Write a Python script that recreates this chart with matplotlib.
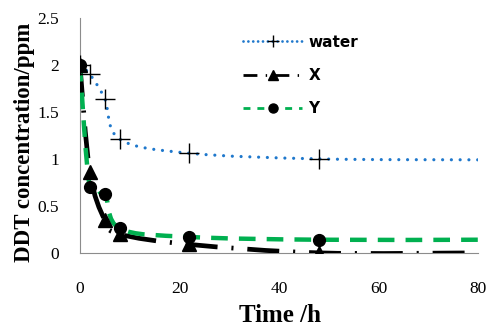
import matplotlib
matplotlib.use("Agg")
import matplotlib.pyplot as plt
import numpy as np
from matplotlib.path import Path
from matplotlib.patches import PathPatch
from matplotlib.lines import Line2D

plt.rcParams['lines.scale_dashes'] = False

# data
time_h = [0, 2, 5, 8, 22, 48, 80]
water = [2.0, 1.90, 1.64, 1.21, 1.06, 1.00, 0.99]
x_series = [2.0, 0.86, 0.35, 0.20, 0.09, 0.0, 0.0]
y_series = [2.0, 0.70, 0.63, 0.26, 0.17, 0.14, 0.14]
n_marked = 6  # last point (80 h) carries no marker
labels = ["water", "X", "Y"]
xticks = [0, 20, 40, 60, 80]
yticks = [0, 0.5, 1, 1.5, 2, 2.5]
ytick_labels = ["0", "0.5", "1", "1.5", "2", "2.5"]


def smooth_path(xs, ys):
    pts = np.column_stack([xs, ys]).astype(float)
    n = len(pts)
    verts = [pts[0]]
    codes = [Path.MOVETO]
    for i in range(n - 1):
        p_prev = pts[i - 1] if i > 0 else pts[i]
        p0 = pts[i]
        p1 = pts[i + 1]
        p_next = pts[i + 2] if i + 2 < n else pts[i + 1]
        c1 = p0 + (p1 - p_prev) / 6.0
        c2 = p1 - (p_next - p0) / 6.0
        verts += [c1, c2, p1]
        codes += [Path.CURVE4] * 3
    return Path(verts, codes)


fig = plt.figure(figsize=(4.93, 3.31), dpi=100)
ax = fig.add_axes([0.162, 0.236, 0.808, 0.71])

blue = "#1F78CC"
green = "#00B050"

styles = [
    dict(color=blue, lw=2.3, ls=(0, (0.01, 6.3)), capstyle='round'),
    dict(color="black", lw=3.4, ls=(0, (23, 10, 1.5, 10)), capstyle='butt'),
    dict(color=green, lw=3.2, ls=(0, (12, 8)), capstyle='butt'),
]
series = [water, x_series, y_series]

for ys, st, z in zip(series, styles, [2, 3, 4]):
    patch = PathPatch(smooth_path(time_h, ys), fill=False, edgecolor=st['color'],
                      lw=st['lw'], linestyle=st['ls'], capstyle=st['capstyle'], zorder=z)
    ax.add_patch(patch)

ax.plot(time_h[:n_marked], water[:n_marked], ls='none', marker='+', ms=15, mew=1.0,
        color='black', zorder=5)
ax.plot(time_h[:n_marked], y_series[:n_marked], ls='none', marker='o', ms=8.5,
        color='black', zorder=6)
ax.plot(time_h[:n_marked], x_series[:n_marked], ls='none', marker='^', ms=10,
        color='black', zorder=7)

ax.set_xlim(0, 80)
ax.set_ylim(0, 2.5)
ax.set_xticks(xticks)
ax.set_yticks(yticks)
ax.set_yticklabels(ytick_labels)
for s in ['top', 'right']:
    ax.spines[s].set_visible(False)
for s in ['left', 'bottom']:
    ax.spines[s].set_color('#8c8c8c')
    ax.spines[s].set_linewidth(0.8)
ax.tick_params(axis='both', length=0, labelsize=12.5)
ax.tick_params(axis='x', pad=20)
ax.tick_params(axis='y', pad=15)
for lab in ax.get_xticklabels() + ax.get_yticklabels():
    lab.set_fontfamily('Liberation Serif')

ax.set_xlabel("Time /h", fontfamily='Liberation Serif', fontweight='bold', fontsize=18,
              va='center')
ax.set_ylabel("DDT concentration/ppm", fontfamily='Liberation Serif', fontweight='bold',
              fontsize=16.5, va='center')
ax.xaxis.set_label_coords(0.503, -0.268)
ax.yaxis.set_label_coords(-0.140, 0.47)

handles = [
    Line2D([], [], color=blue, lw=2.0, ls=(0, (0.01, 3.5)), dash_capstyle='round',
           marker='+', ms=9, mec='black', mew=1.0),
    Line2D([], [], color='black', lw=2.0, ls=(0, (10, 6, 1, 6)),
           marker='^', ms=7, mec='black', mfc='black'),
    Line2D([], [], color=green, lw=2.0, ls=(0, (5, 5)),
           marker='o', ms=6.5, mec='black', mfc='black'),
]
leg = ax.legend(handles, labels, loc='upper left', bbox_to_anchor=(229 / 493, 1 - 21 / 331),
                bbox_transform=fig.transFigure, frameon=False, handlelength=3.9,
                labelspacing=1.2, handletextpad=0.4,
                prop=dict(family='DejaVu Sans', weight='bold', size=11))

fig.savefig("out.png", dpi=100)
